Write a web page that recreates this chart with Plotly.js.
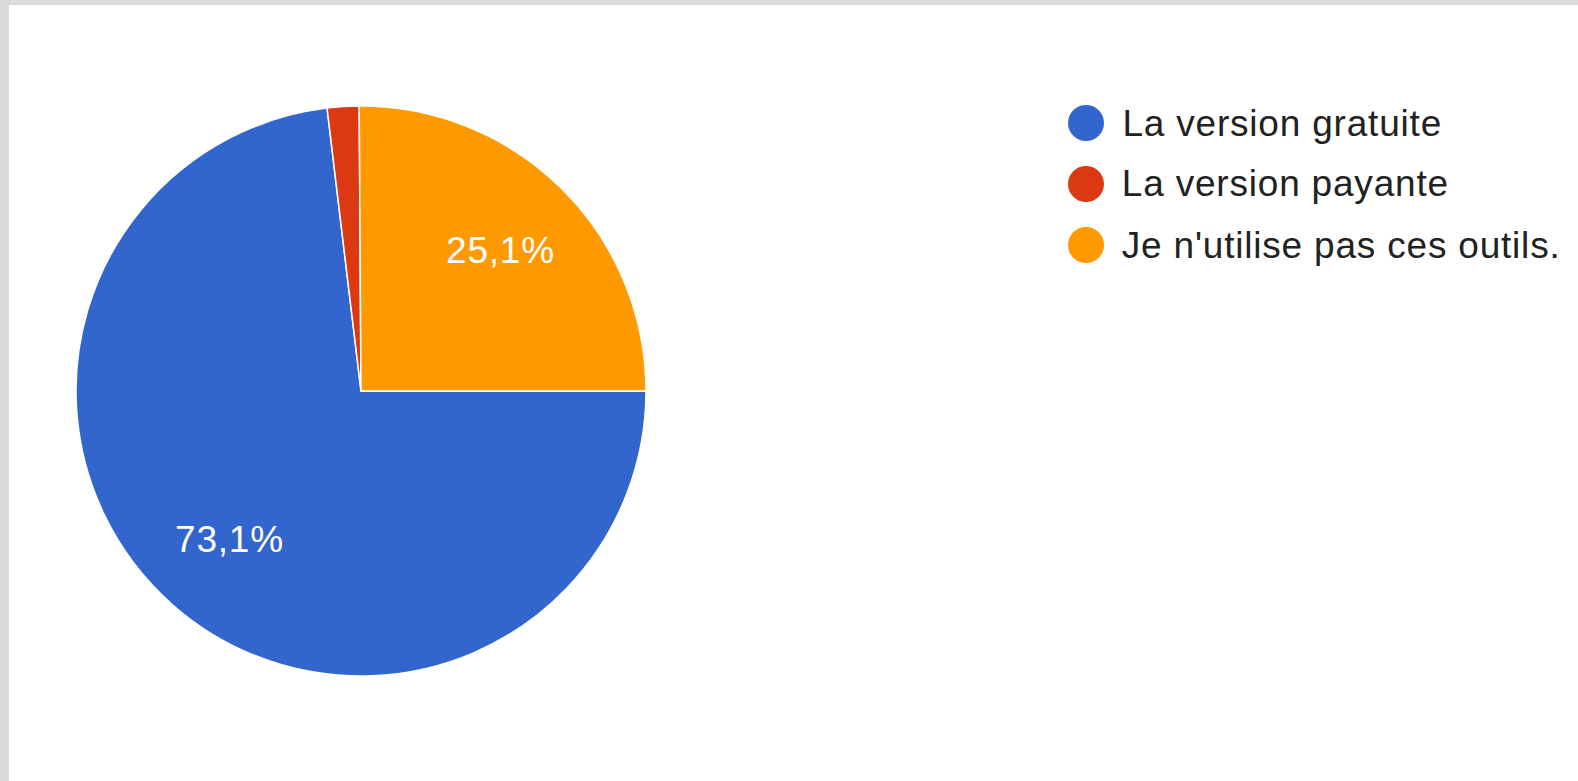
<!DOCTYPE html>
<html>
<head>
<meta charset="utf-8">
<script src="https://cdn.plot.ly/plotly-3.0.1.min.js"></script>
<style>
  html, body { margin: 0; padding: 0; background: #d9d9d9; width: 1578px; height: 781px; overflow: hidden; }
  #chart { position: absolute; left: 9px; top: 5px; width: 1569px; height: 776px; background: #ffffff; }
  #chart text { letter-spacing: 0.8px; }
</style>
</head>
<body>
<div id="chart"></div>
<script>
// Data
const labels = ['La version gratuite', 'La version payante', "Je n'utilise pas ces outils."];
const values = [73.1, 1.8, 25.1];
const colors = ['#3366cc', '#dc3912', '#ff9900'];

const W = 1569, H = 776;
const FONT = '"Liberation Sans", Arial, Helvetica, sans-serif';
const LS = 0.8; // letter spacing (px) applied through CSS

// Pie geometry (pixels inside the chart div)
const cx = 352, cy = 386, R = 285;
const ROT = 90; // first slice starts at 3 o'clock, going clockwise

const pie = {
  type: 'pie',
  labels: labels,
  values: values,
  sort: false,
  direction: 'clockwise',
  rotation: ROT,
  marker: { colors: colors, line: { color: '#ffffff', width: 1.5 } },
  textinfo: 'none',
  hoverinfo: 'label+percent',
  showlegend: false,
  domain: {
    x: [(cx - R) / W, (cx + R) / W],
    y: [(H - cy - R) / H, (H - cy + R) / H]
  }
};

const shapes = [];
const annotations = [];

// Percentage labels placed at each slice's mid-angle (derived from the values)
const total = values.reduce((a, b) => a + b, 0);
let cum = 0;
values.forEach((v, i) => {
  const frac = v / total;
  const midDeg = ROT + 360 * (cum + frac / 2);
  cum += frac;
  if (frac < 0.05) return;
  const a = midDeg * Math.PI / 180;
  const r = 0.695 * R;
  const px = cx + r * Math.sin(a);
  const py = cy - r * Math.cos(a);
  annotations.push({
    xref: 'paper', yref: 'paper',
    x: px / W, y: (H - py) / H,
    xanchor: 'center', yanchor: 'middle',
    text: (frac * 100).toFixed(1).replace('.', ',') + '%',
    showarrow: false,
    font: { family: FONT, size: 37, color: '#ffffff' }
  });
});

// Custom legend with round swatches, built from the label/colour arrays
const legX = 1077, legY0 = 118, legStep = 61, legR = 18, legTextX = 1111;
labels.forEach((lab, i) => {
  const y = legY0 + i * legStep;
  shapes.push({
    type: 'circle', xref: 'paper', yref: 'paper',
    x0: (legX - legR) / W, x1: (legX + legR) / W,
    y0: (H - y - legR) / H, y1: (H - y + legR) / H,
    fillcolor: colors[i], line: { width: 0 }
  });
  // compensate for the CSS letter spacing that Plotly does not measure
  const shift = LS * lab.length / 2;
  annotations.push({
    xref: 'paper', yref: 'paper',
    x: (legTextX + shift) / W, y: (H - y) / H,
    xanchor: 'left', yanchor: 'middle',
    text: lab, showarrow: false,
    font: { family: FONT, size: 37, color: '#222222' }
  });
});

const layout = {
  width: W, height: H,
  margin: { l: 0, r: 0, t: 0, b: 0 },
  paper_bgcolor: '#ffffff',
  plot_bgcolor: '#ffffff',
  separators: ', ',
  showlegend: false,
  font: { family: FONT },
  shapes: shapes,
  annotations: annotations
};

Plotly.newPlot('chart', [pie], layout, { displayModeBar: false, staticPlot: true });
</script>
</body>
</html>
